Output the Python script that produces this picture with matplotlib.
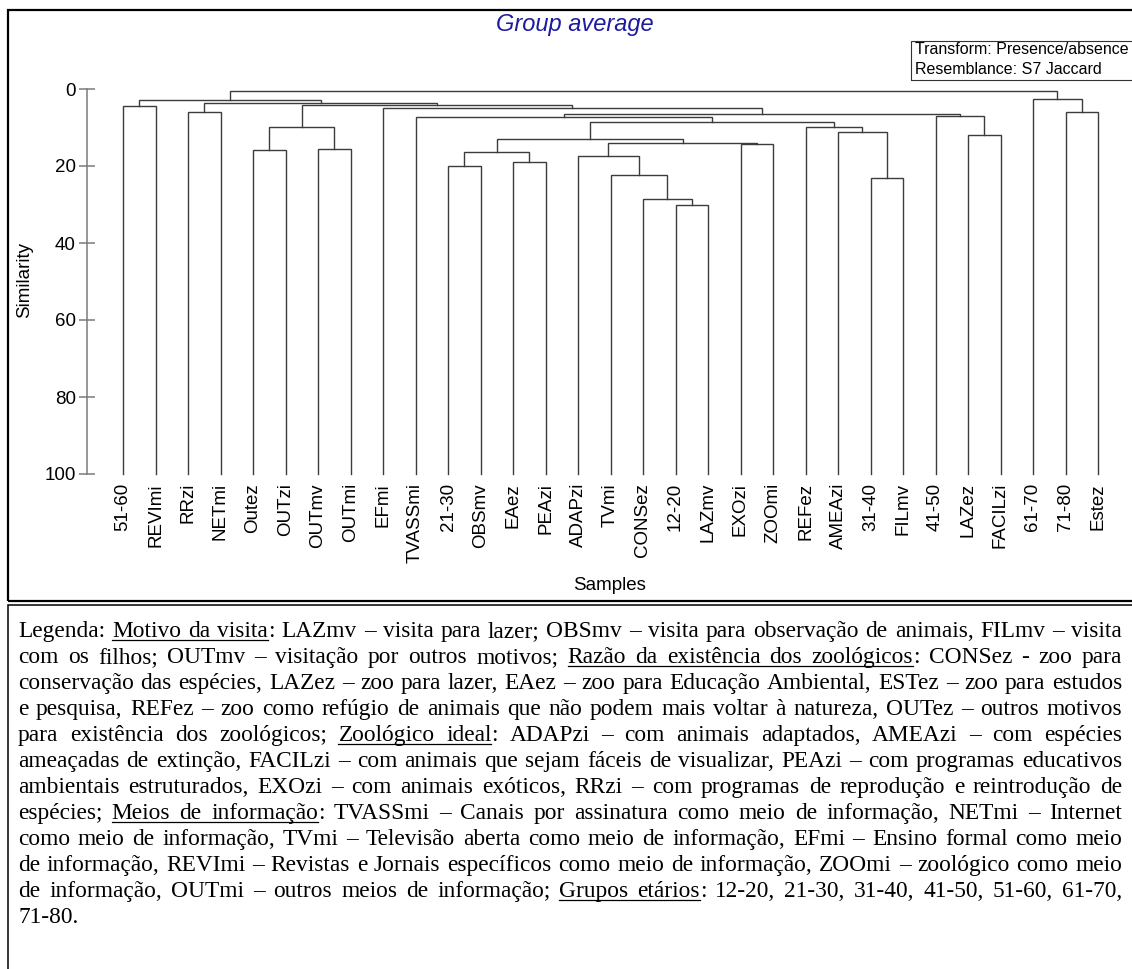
import matplotlib
matplotlib.use('Agg')
import matplotlib.pyplot as plt
from matplotlib.font_manager import FontProperties
from matplotlib.lines import Line2D
from matplotlib.patches import Rectangle

W, H = 1132, 969

# ---------------- data ----------------
leaf_labels = ['51-60', 'REVImi', 'RRzi', 'NETmi', 'Outez', 'OUTzi', 'OUTmv', 'OUTmi',
               'EFmi', 'TVASSmi', '21-30', 'OBSmv', 'EAez', 'PEAzi', 'ADAPzi', 'TVmi',
               'CONSez', '12-20', 'LAZmv', 'EXOzi', 'ZOOmi', 'REFez', 'AMEAzi', '31-40',
               'FILmv', '41-50', 'LAZez', 'FACILzi', '61-70', '71-80', 'Estez']

# merges: node ids 0..30 are leaves, 31.. are clusters in creation order
merge_left = [0, 2, 4, 6, 33, 10, 12, 36, 17, 16, 15, 14, 19, 42, 38,
              23, 22, 21, 45, 9, 26, 25, 50, 8, 35, 32, 31, 29, 28, 57]
merge_right = [1, 3, 5, 7, 34, 11, 13, 37, 18, 39, 40, 41, 20, 43, 44,
               24, 46, 47, 48, 49, 27, 51, 52, 53, 54, 55, 56, 30, 58, 59]
merge_level = [4.4, 5.9, 15.9, 15.6, 9.9, 20.0, 19.0, 16.4, 30.0, 28.6, 22.4, 17.3, 14.4, 13.9, 12.9,
               23.2, 11.2, 9.8, 8.6, 7.3, 11.9, 7.1, 6.5, 5.0, 4.2, 3.7, 2.9, 5.9, 2.7, 0.4]

y_ticks = [0, 20, 40, 60, 80, 100]

title = 'Group average'
info_lines = ['Transform: Presence/absence', 'Resemblance: S7 Jaccard']

legend_lines = [
    "Legenda: _Motivo da visita_: LAZmv – visita para lazer; OBSmv – visita para observação de animais, FILmv – visita",
    "com os filhos; OUTmv – visitação por outros motivos; _Razão da existência dos zoológicos_: CONSez - zoo para",
    "conservação das espécies, LAZez – zoo para lazer, EAez – zoo para Educação Ambiental, ESTez – zoo para estudos",
    "e pesquisa, REFez – zoo como refúgio de animais que não podem mais voltar à natureza, OUTez – outros motivos",
    "para existência dos zoológicos; _Zoológico ideal_: ADAPzi – com animais adaptados, AMEAzi – com espécies",
    "ameaçadas de extinção, FACILzi – com animais que sejam fáceis de visualizar, PEAzi – com programas educativos",
    "ambientais estruturados, EXOzi – com animais exóticos, RRzi – com programas de reprodução e reintrodução de",
    "espécies; _Meios de informação_: TVASSmi – Canais por assinatura como meio de informação, NETmi – Internet",
    "como meio de informação, TVmi – Televisão aberta como meio de informação, EFmi – Ensino formal como meio",
    "de informação, REVImi – Revistas e Jornais específicos como meio de informação, ZOOmi – zoológico como meio",
    "de informação, OUTmi – outros meios de informação; _Grupos etários_: 12-20, 21-30, 31-40, 41-50, 51-60, 61-70,",
    "71-80.",
]

# ---------------- figure ----------------
plt.rcParams['font.family'] = ['Liberation Sans', 'DejaVu Sans']
fig = plt.figure(figsize=(W / 100, H / 100), dpi=100)


def fx(x):
    return x / W


def fy(y):
    return 1 - y / H


# frames
fig.add_artist(Rectangle((fx(8), fy(601)), fx(1140) - fx(8), fy(10) - fy(601),
                         transform=fig.transFigure, fill=False, edgecolor='black', linewidth=1.6))
fig.add_artist(Rectangle((fx(8), fy(990)), fx(1140) - fx(8), fy(605) - fy(990),
                         transform=fig.transFigure, fill=False, edgecolor='black', linewidth=1.1))

# dendrogram axes
ax_left, ax_top, ax_bottom = 87, 89, 474
leaf0, step = 123, 32.5
ax = fig.add_axes([fx(ax_left), fy(ax_bottom), fx(W) - fx(ax_left), fy(ax_top) - fy(ax_bottom)])
ax.patch.set_visible(False)
ax.set_xlim(-(leaf0 - ax_left) / step, (W - leaf0) / step)
ax.set_ylim(100, 0)

n = len(leaf_labels)
xpos = {i: float(i) for i in range(n)}
ypos = {i: 100.0 for i in range(n)}
for k, (a, b, h) in enumerate(zip(merge_left, merge_right, merge_level)):
    xa, xb = xpos[a], xpos[b]
    ax.plot([xa, xa, xb, xb], [ypos[a], h, h, ypos[b]], color='#3c3c3c', lw=1.0,
            solid_joinstyle='miter', clip_on=False)
    node = n + k
    xpos[node] = (xa + xb) / 2
    ypos[node] = h

for s in ['top', 'right', 'bottom']:
    ax.spines[s].set_visible(False)
ax.spines['left'].set_color('#7a7a7a')
ax.spines['left'].set_linewidth(1.1)
ax.set_yticks(y_ticks)
ax.set_yticklabels([str(t) for t in y_ticks])
ax.tick_params(axis='y', direction='inout', length=11.5, width=1.1, color='#7a7a7a',
               pad=2.2, labelsize=13.5, labelcolor='black')
ax.set_xticks(range(n))
ax.set_xticklabels(leaf_labels, rotation=90, fontsize=13.5)
ax.tick_params(axis='x', length=0, pad=6.5)
for lbl in ax.get_xticklabels():
    lbl.set_verticalalignment('top')

# axis titles and title
fig.text(fx(25), fy(280), 'Similarity', rotation=90, ha='center', va='center', fontsize=13.5)
fig.text(fx(610), fy(585), 'Samples', ha='center', va='center', fontsize=13.5)
fig.text(fx(575), fy(24), title, ha='center', va='center', fontsize=17, style='italic',
         color='#1c1c9e')

# info box
fig.add_artist(Rectangle((fx(911), fy(80)), fx(1140) - fx(911), fy(40.7) - fy(80),
                         transform=fig.transFigure, fill=False, edgecolor='#333333', linewidth=0.8))
for i, t in enumerate(info_lines):
    fig.text(fx(915), fy(50 + 19 * i), t, ha='left', va='center', fontsize=11.5)

# legend text block (justified)
prop = FontProperties(family=['Liberation Serif', 'DejaVu Serif'], size=16.8)
renderer = fig.canvas.get_renderer()


def tw(s):
    w, h, d = renderer.get_text_width_height_descent(s, prop, ismath=False)
    return w


space_w = tw('a a') - tw('aa')
x_left, x_right = 18, 1122
base0, line_h = 637, 26.0


def underline(x0, x1, yb):
    fig.add_artist(Line2D([fx(x0), fx(x1)], [fy(yb + 3), fy(yb + 3)], transform=fig.transFigure,
                          color='black', lw=0.9))


for k, line in enumerate(legend_lines):
    yb = base0 + k * line_h
    parts = line.split('_')
    words = [[]]
    for i, p in enumerate(parts):
        ul = (i % 2 == 1)
        for j, piece in enumerate(p.split(' ')):
            if j > 0:
                words.append([])
            if piece:
                words[-1].append((piece, ul))
    words = [w for w in words if w]
    widths = [sum(tw(t) for t, _ in w) for w in words]
    justify = k < len(legend_lines) - 1 and len(words) > 1
    gap = (x_right - x_left - sum(widths)) / (len(words) - 1) if justify else space_w
    x = x_left
    ul_start = None
    ul_end = None
    for w in words:
        for t, ul in w:
            wt = tw(t)
            fig.text(fx(x), fy(yb), t, fontproperties=prop, ha='left', va='baseline')
            if ul:
                if ul_start is None:
                    ul_start = x
                ul_end = x + wt
            elif ul_start is not None:
                underline(ul_start, ul_end, yb)
                ul_start = None
            x += wt
        x += gap
    if ul_start is not None:
        underline(ul_start, ul_end, yb)

fig.savefig('out.png', dpi=100)
